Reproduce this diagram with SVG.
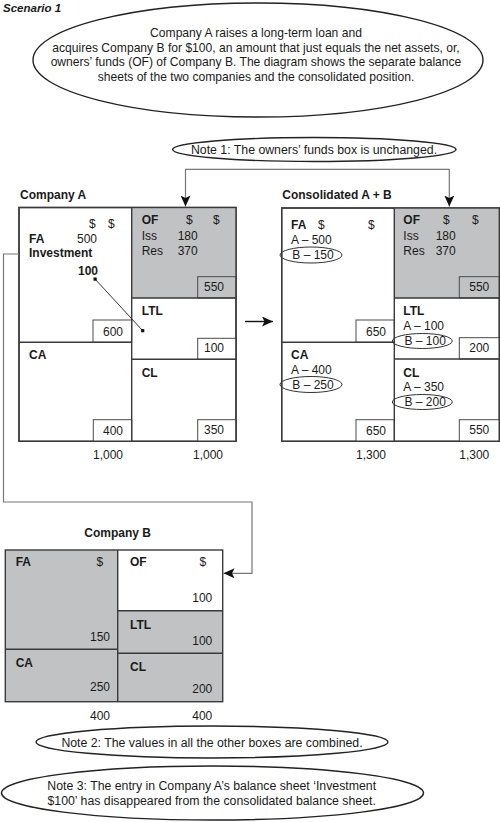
<svg xmlns="http://www.w3.org/2000/svg" width="500" height="822" viewBox="0 0 500 822">
<defs>
<style>
text{font-family:"Liberation Sans",Arial,sans-serif;fill:#1a1a1a;font-size:12px}
.b{font-weight:bold}
.note{font-size:12.3px}
.intro{font-size:12.1px}
.r{text-anchor:end}
.m{text-anchor:middle}
.box{fill:#fff;stroke:#3a3a3a;stroke-width:1.4}
.grey{fill:#c1c2c4}
.ln{stroke:#3a3a3a;stroke-width:1.4;fill:none}
.vb{fill:#fff;stroke:#4a4a4a;stroke-width:1}
.vbg{fill:#c1c2c4;stroke:#4a4a4a;stroke-width:1}
.ell{fill:#fff;stroke:#222;stroke-width:1.4}
.oval{fill:none;stroke:#333;stroke-width:1}
.conn{fill:none;stroke:#777;stroke-width:1.2}
</style>
<marker id="ah" markerUnits="userSpaceOnUse" markerWidth="12" markerHeight="10" refX="11" refY="5" orient="auto-start-reverse" viewBox="0 0 12 10">
<path d="M0,0 L11,5 L0,10 L2.5,5 Z" fill="#111"/>
</marker>
</defs>

<text x="3" y="12" class="b" style="font-style:italic;font-size:11.5px">Scenario 1</text>

<g id="intro">
<ellipse cx="258" cy="60" rx="225" ry="57" class="ell"/>
<text class="m intro" x="256" y="37">Company A raises a long-term loan and</text>
<text class="m intro" x="256" y="51.5">acquires Company B for $100, an amount that just equals the net assets, or,</text>
<text class="m intro" x="256" y="66">owners’ funds (OF) of Company B. The diagram shows the separate balance</text>
<text class="m intro" x="256" y="80.5">sheets of the two companies and the consolidated position.</text>
</g>

<g id="note1">
<ellipse cx="314.3" cy="149.5" rx="141.7" ry="12" class="ell"/>
<text class="m note" x="314" y="153.5">Note 1: The owners’ funds box is unchanged.</text>
</g>

<g id="companyA">
<text class="b" x="20" y="199">Company A</text>
<rect x="19" y="207.5" width="217" height="233.8" class="box"/>
<rect x="131.7" y="207.5" width="104.3" height="90.5" class="grey"/>
<rect x="93" y="320" width="38.7" height="22.3" class="vb"/>
<rect x="197.7" y="276.7" width="38.3" height="21.3" class="vbg"/>
<rect x="197.7" y="338.3" width="38.3" height="21" class="vb"/>
<rect x="93.3" y="419.7" width="38.4" height="21.6" class="vb"/>
<rect x="197.7" y="419.7" width="38.3" height="21.6" class="vb"/>
<rect x="19" y="207.5" width="217" height="233.8" class="ln"/>
<path d="M131.7,207.5 V441.3 M19,342.3 H131.7 M131.7,298 H236 M131.7,359.3 H236" class="ln"/>
<text x="89" y="228">$</text><text x="108" y="228">$</text>
<text class="b" x="29" y="243">FA</text><text x="77" y="243">500</text>
<text class="b" x="29" y="257">Investment</text>
<text class="b" x="78" y="275">100</text>
<path d="M95,279 L142.7,330.7" stroke="#222" stroke-width="0.9"/>
<rect x="93.5" y="277.5" width="3.2" height="3.2" fill="#111"/>
<rect x="141.1" y="329.1" width="3.2" height="3.2" fill="#111"/>
<text class="b" x="141.7" y="224">OF</text><text x="186" y="224">$</text><text x="213" y="224">$</text>
<text x="141.7" y="239.5">Iss</text><text x="177.7" y="239.5">180</text>
<text x="141.7" y="254.5">Res</text><text x="177.7" y="254.5">370</text>
<text class="r" x="224" y="291">550</text>
<text class="b" x="141.7" y="315">LTL</text>
<text class="r" x="224" y="352">100</text>
<text class="r" x="123" y="336">600</text>
<text class="b" x="29" y="358.5">CA</text>
<text class="b" x="141.7" y="377">CL</text>
<text class="r" x="123" y="435">400</text>
<text class="r" x="224" y="434">350</text>
<text class="r" x="123" y="459">1,000</text>
<text class="r" x="223" y="459">1,000</text>
</g>

<g id="consolidated">
<text class="b" x="282.3" y="199">Consolidated A + B</text>
<rect x="281.7" y="208" width="217.6" height="233.3" class="box"/>
<rect x="394.3" y="208" width="105" height="90" class="grey"/>
<rect x="356" y="320" width="38.3" height="22.3" class="vb"/>
<rect x="459.3" y="276.7" width="40" height="21.3" class="vbg"/>
<rect x="459.3" y="337.7" width="40" height="21.3" class="vb"/>
<rect x="356" y="419.7" width="38.3" height="21.6" class="vb"/>
<rect x="459.3" y="419.7" width="40" height="21.6" class="vb"/>
<rect x="281.7" y="208" width="217.6" height="233.3" class="ln"/>
<path d="M394.3,208 V441.3 M281.7,342.3 H394.3 M394.3,298 H499.3 M394.3,359 H499.3" class="ln"/>
<text class="b" x="291" y="228.5">FA</text><text x="318" y="228.5">$</text><text x="368" y="228.5">$</text>
<text x="291" y="244">A – 500</text>
<text x="292.3" y="259">B – 150</text>
<ellipse cx="311" cy="255" rx="31" ry="8" class="oval"/>
<text class="r" x="386" y="336">650</text>
<text class="b" x="403.3" y="224">OF</text><text x="443" y="224">$</text><text x="472" y="224">$</text>
<text x="403.3" y="239.5">Iss</text><text x="435.7" y="239.5">180</text>
<text x="403.3" y="254.5">Res</text><text x="435.7" y="254.5">370</text>
<text class="r" x="489.3" y="291">550</text>
<text class="b" x="403.3" y="315">LTL</text>
<text x="403.3" y="330">A – 100</text>
<text x="404.5" y="345">B – 100</text>
<ellipse cx="422.3" cy="341" rx="30" ry="7.5" class="oval"/>
<text class="r" x="489.3" y="352">200</text>
<text class="b" x="291" y="358.5">CA</text>
<text x="291" y="373.5">A – 400</text>
<text x="292.3" y="388.5">B – 250</text>
<ellipse cx="311" cy="384.5" rx="31" ry="8" class="oval"/>
<text class="b" x="403.3" y="377">CL</text>
<text x="403.3" y="390.5">A – 350</text>
<text x="404.5" y="406">B – 200</text>
<ellipse cx="422.3" cy="402" rx="30" ry="7.5" class="oval"/>
<text class="r" x="386" y="435">650</text>
<text class="r" x="489.3" y="434">550</text>
<text class="r" x="386" y="459">1,300</text>
<text class="r" x="489.3" y="459">1,300</text>
</g>

<g id="companyB">
<text class="b" x="84.3" y="537">Company B</text>
<rect x="5.3" y="550" width="217.4" height="151.7" class="grey"/>
<rect x="117.7" y="550" width="105" height="60.7" fill="#fff"/>
<rect x="5.3" y="550" width="217.4" height="151.7" class="ln"/>
<path d="M117.7,550 V701.7 M5.3,649.3 H117.7 M117.7,610.7 H222.7 M117.7,653.3 H222.7" class="ln"/>
<text class="b" x="15.7" y="566">FA</text><text x="96.5" y="566">$</text>
<text class="b" x="130" y="566">OF</text><text x="199.5" y="566">$</text>
<text class="r" x="212.3" y="602">100</text>
<text class="r" x="110" y="641">150</text>
<text class="b" x="130" y="628.5">LTL</text>
<text class="r" x="212.3" y="645">100</text>
<text class="b" x="15.7" y="667">CA</text>
<text class="r" x="110" y="691">250</text>
<text class="b" x="130" y="671">CL</text>
<text class="r" x="212.3" y="693">200</text>
<text class="r" x="110" y="719.5">400</text>
<text class="r" x="212.3" y="719.5">400</text>
</g>

<g id="note2">
<ellipse cx="212" cy="742" rx="176" ry="16" class="ell"/>
<text class="m note" x="212" y="746.5">Note 2: The values in all the other boxes are combined.</text>
</g>

<g id="note3">
<ellipse cx="212.5" cy="793" rx="211" ry="27" class="ell"/>
<text class="m note" x="211.7" y="790">Note 3: The entry in Company A’s balance sheet ‘Investment</text>
<text class="m note" x="211.7" y="804.5">$100’ has disappeared from the consolidated balance sheet.</text>
</g>

<g id="connectors">
<path d="M185.5,206.5 V169.3 H449.3 V206.5" class="conn" marker-start="url(#ah)" marker-end="url(#ah)"/>
<path d="M19,254 H3.5 V502 H252 V573.3 H223.5" class="conn" marker-end="url(#ah)"/>
<path d="M245,321.5 H273" stroke="#111" stroke-width="1.4" fill="none" marker-end="url(#ah)"/>
</g>
</svg>
